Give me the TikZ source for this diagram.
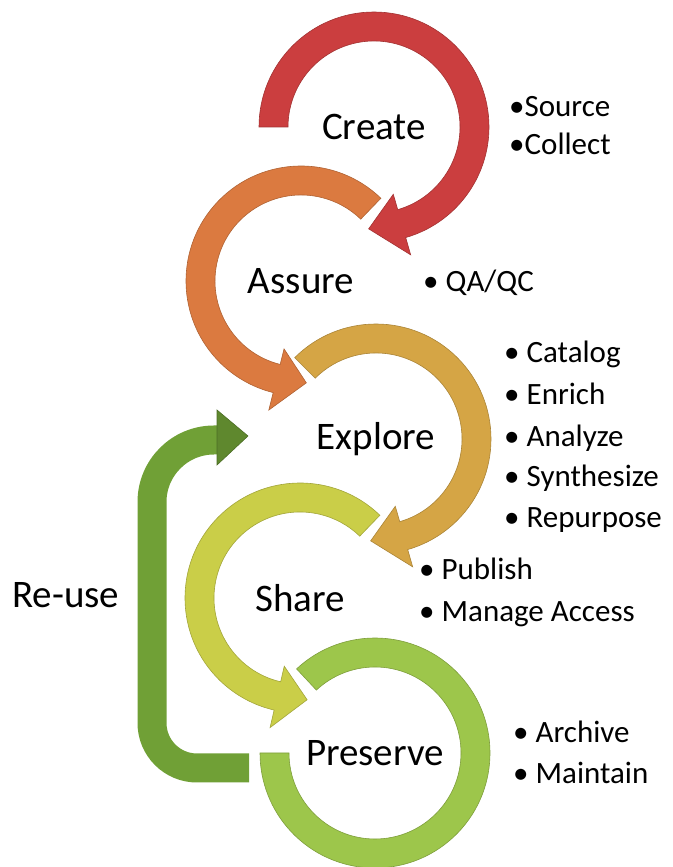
\documentclass[tikz,border=0pt]{standalone}
\usepackage{fontspec}
\setmainfont{Carlito}
\usetikzlibrary{calc}

\definecolor{createred}{HTML}{CB3E3F}
\definecolor{assureorange}{HTML}{DB7A40}
\definecolor{exploregold}{HTML}{D5A545}
\definecolor{shareyellow}{HTML}{CACE48}
\definecolor{preservegreen}{HTML}{9DC64B}
\definecolor{reusegreen}{HTML}{70A036}

\tikzset{
  stage/.style={inner sep=0pt, font=\fontsize{39}{47}\selectfont},
  item/.style={anchor=base west, inner sep=0pt, font=\fontsize{31}{37}\selectfont},
  band/.style={fill=#1, draw=#1!80!black, line width=0.6pt}
}

% circular arrow round a stage: node, start angle, end of shaft, tip angle, colour
\newcommand{\cyclearrow}[5]{%
  \filldraw[band=#5]
    ($(#1)+(#2:115)$) arc[start angle=#2, end angle=#3, radius=115]
    -- ($(#1)+(#3:133)$) -- ($(#1)+(#4:102)$) -- ($(#1)+(#3:70)$)
    -- ($(#1)+(#3:86)$) arc[start angle=#3, end angle=#2, radius=86] -- cycle;
}

\begin{document}
\begin{tikzpicture}[x=1pt, y=1pt]
		\useasboundingbox (0,0) rectangle (672,867);

		% stages
		\node[stage] (create)   at (374,740) {Create};
		\node[stage] (assure)   at (301,586) {Assure};
		\node[stage] (explore)  at (376,428) {Explore};
		\node[stage] (share)    at (300,269) {Share};
		\node[stage] (preserve) at (375,114) {Preserve};
		\node[stage, anchor=base west] (reuse) at (12,259) {Re-use};

		% activities
		\node[item] (source)    at (509,750) {•Source};
		\node[item] (collect)   at (509,712) {•Collect};
		\node[item] (qaqc)      at (423,575) {• QA/QC};
		\node[item] (catalog)   at (504,504) {• Catalog};
		\node[item] (enrich)    at (504,462) {• Enrich};
		\node[item] (analyze)   at (504,420) {• Analyze};
		\node[item] (synth)     at (504,380) {• Synthesize};
		\node[item] (repurpose) at (504,339) {• Repurpose};
		\node[item] (publish)   at (419,287) {• Publish};
		\node[item] (access)    at (419,245) {• Manage Access};
		\node[item] (archive)   at (513,124) {• Archive};
		\node[item] (maintain)  at (513,83)  {• Maintain};

		% cycle arrows
		\cyclearrow{create}{180}{-74}{-93}{createred}
		\cyclearrow{assure}{46}{256}{273}{assureorange}
		\cyclearrow{explore}{135}{-74}{-93}{exploregold}
		\cyclearrow{share}{46}{257}{274}{shareyellow}
		\filldraw[band=preservegreen]
			($(preserve)+(133:115)$) arc[start angle=133, end angle=-180, radius=115]
			-- ($(preserve)+(-180:86)$) arc[start angle=-180, end angle=133, radius=86] -- cycle;

		% re-use loop back to explore
		\coordinate (reuse end) at ($(preserve)+(-126,-15)$);
		\coordinate (reuse corner) at ($(preserve)+(-223,-15)$);
		\coordinate (reuse head) at ($(explore)+(-159,-1)$);
		\draw[reusegreen, line width=29pt]
			[rounded corners=45pt] (reuse end) -- (reuse corner)
			[rounded corners=62pt] |- (reuse head);
		\filldraw[band=reusegreen!85!black]
			($(reuse head)+(0,30)$) -- ($(reuse head)+(31,4)$) -- ($(reuse head)+(0,-25)$) -- cycle;
	\end{tikzpicture}
\end{document}
